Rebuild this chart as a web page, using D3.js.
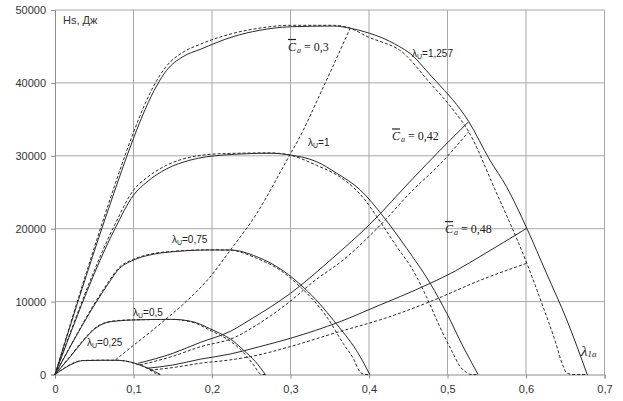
<!DOCTYPE html>
<html><head><meta charset="utf-8">
<script src="https://cdnjs.cloudflare.com/ajax/libs/d3/7.8.5/d3.min.js"></script>
<style>
body{margin:0;background:#fff;}
svg{display:block;}
</style></head>
<body>
<svg id="c" width="623" height="401"></svg>
<script>
// ---- data ----
const xTicks = [0,0.1,0.2,0.3,0.4,0.5,0.6,0.7];
const xTickLabels = ["0","0,1","0,2","0,3","0,4","0,5","0,6","0,7"];
const yTicks = [0,10000,20000,30000,40000,50000];
const yTickLabels = ["0","10000","20000","30000","40000","50000"];

// λU curves: [λ1a, Hs]
const lu1257Solid = [[0,0],[0.04,13600],[0.07,23300],[0.1,32400],[0.115,36400],[0.13,39700],[0.142,41700],[0.163,43600],[0.185,44600],[0.227,46350],[0.26,47200],[0.3,47700],[0.355,47800],[0.376,47500],[0.401,46800],[0.414,46300],[0.439,44970],[0.452,44070],[0.478,41100],[0.486,40170],[0.527,34700],[0.554,29400],[0.575,25800],[0.601,20060],[0.626,13900],[0.652,7480],[0.678,0]];
const lu1257Dashed = [[0,0],[0.04,14000],[0.07,24000],[0.1,33200],[0.115,37200],[0.13,40400],[0.142,42300],[0.163,44200],[0.185,45300],[0.227,46800],[0.26,47500],[0.3,47900],[0.355,47900],[0.376,47500],[0.401,46200],[0.414,45700],[0.439,44500],[0.478,39950],[0.505,36600],[0.527,33300],[0.56,25500],[0.601,15260],[0.62,9800],[0.638,4300],[0.646,1500],[0.652,200],[0.66,0],[0.679,0]];
const lu1Solid = [[0,0],[0.0764,20000],[0.1,24600],[0.117,26400],[0.142,28200],[0.172,29400],[0.214,30100],[0.274,30350],[0.299,30120],[0.333,29200],[0.359,27600],[0.389,25300],[0.418,21700],[0.448,17300],[0.478,12500],[0.499,8400],[0.52,3800],[0.539,0]];
const lu1Dashed = [[0,0],[0.0764,20600],[0.1,25300],[0.117,27000],[0.142,28700],[0.172,29800],[0.214,30300],[0.274,30400],[0.299,30100],[0.333,28700],[0.363,27100],[0.393,24200],[0.41,21650],[0.435,17600],[0.456,14300],[0.473,10700],[0.49,6600],[0.507,2900],[0.516,1100],[0.524,300],[0.53,0],[0.539,0]];
const lu075Solid = [[0,0],[0.07,12800],[0.08,14300],[0.1,15700],[0.121,16400],[0.151,16850],[0.197,17080],[0.223,17080],[0.257,16160],[0.291,14200],[0.316,12000],[0.338,9600],[0.355,7400],[0.37,5400],[0.384,3300],[0.401,0]];
const lu075Dashed = [[0,0],[0.07,13000],[0.08,14500],[0.1,15800],[0.121,16500],[0.151,16900],[0.197,17100],[0.223,17050],[0.257,15940],[0.291,14000],[0.312,12050],[0.329,10220],[0.346,7930],[0.367,4280],[0.38,2200],[0.389,300],[0.395,0],[0.401,0]];
const lu05Solid = [[0,0],[0.02,2500],[0.035,4500],[0.05,6200],[0.065,7100],[0.08,7350],[0.1,7480],[0.15,7570],[0.165,7450],[0.18,7100],[0.197,6300],[0.21,5650],[0.223,4900],[0.24,3360],[0.255,1800],[0.268,0]];
const lu05Dashed = [[0,0],[0.02,2600],[0.035,4600],[0.05,6300],[0.065,7150],[0.08,7400],[0.1,7500],[0.15,7550],[0.165,7400],[0.18,7000],[0.197,6100],[0.21,5400],[0.223,4600],[0.24,3000],[0.255,1000],[0.26,200],[0.263,0],[0.268,0]];
const lu025Solid = [[0,0],[0.012,850],[0.025,1600],[0.035,1900],[0.06,1950],[0.08,1950],[0.09,1850],[0.1,1600],[0.11,1250],[0.12,800],[0.134,0]];
const lu025Dashed = [[0,0],[0.012,900],[0.025,1650],[0.035,1920],[0.06,1970],[0.08,1950],[0.09,1830],[0.1,1560],[0.11,1200],[0.12,700],[0.128,150],[0.131,0],[0.134,0]];

// constant Ca curves
const ca03Dashed = [[0.077,2000],[0.1,4000],[0.12,5700],[0.138,7300],[0.172,10500],[0.197,13300],[0.223,17000],[0.257,22100],[0.299,30100],[0.31,32200],[0.34,39000],[0.376,47500]];
const ca042Solid = [[0.106,1540],[0.15,2900],[0.185,4400],[0.223,5900],[0.248,7480],[0.3,11140],[0.354,16000],[0.401,20600],[0.456,26900],[0.49,30700],[0.527,34680]];
const ca042Dashed = [[0.108,1300],[0.15,2500],[0.185,3800],[0.227,5000],[0.26,7000],[0.299,9990],[0.33,12800],[0.367,15700],[0.41,20000],[0.456,25310],[0.49,28800],[0.527,33300]];
const ca048Solid = [[0.117,850],[0.15,1300],[0.185,2100],[0.223,2800],[0.26,3800],[0.3,4970],[0.363,7240],[0.414,9540],[0.44,10700],[0.478,12510],[0.51,14200],[0.541,16160],[0.601,20060]];
const ca048Dashed = [[0.121,600],[0.15,950],[0.185,1540],[0.223,2000],[0.26,2700],[0.299,3810],[0.363,5900],[0.42,7700],[0.478,10000],[0.541,12900],[0.601,15260]];

const solidSeries = [lu1257Solid, lu1Solid, lu075Solid, lu05Solid, lu025Solid, ca042Solid, ca048Solid];
const dashedSeries = [lu1257Dashed, lu1Dashed, lu075Dashed, lu05Dashed, lu025Dashed, ca03Dashed, ca042Dashed, ca048Dashed];

// annotation anchors (data units)
const luLabels = [
  {val:"1,257", at:[0.4548,43560]},
  {val:"1", at:[0.3223,31350]},
  {val:"0,75", at:[0.149,18040]},
  {val:"0,5", at:[0.0994,8030]},
  {val:"0,25", at:[0.0408,3910]}
];
const caLabels = [
  {val:"0,3", at:[0.2968,44390]},
  {val:"0,42", at:[0.4293,32110]},
  {val:"0,48", at:[0.4968,19410]}
];

// ---- drawing ----
const svg = d3.select("#c");
const x = d3.scaleLinear().domain([0,0.7]).range([55,604.5]);
const y = d3.scaleLinear().domain([0,50000]).range([374.5,10]);
const gridColor = "#a8a8a8";

// grid
svg.append("g").selectAll("line").data(xTicks.slice(1)).join("line")
  .attr("x1",d=>x(d)).attr("x2",d=>x(d)).attr("y1",y(0)).attr("y2",y(50000))
  .attr("stroke",gridColor).attr("stroke-width",1);
svg.append("g").selectAll("line").data(yTicks.slice(1)).join("line")
  .attr("x1",x(0)).attr("x2",x(0.7)).attr("y1",d=>y(d)).attr("y2",d=>y(d))
  .attr("stroke",gridColor).attr("stroke-width",1);

// axes
const xAxis = svg.append("g").attr("transform",`translate(0,${y(0)})`)
  .call(d3.axisBottom(x).tickValues(xTicks).tickFormat((d,i)=>xTickLabels[i]).tickSize(4).tickPadding(7));
const yAxis = svg.append("g").attr("transform",`translate(${x(0)},0)`)
  .call(d3.axisLeft(y).tickValues(yTicks).tickFormat((d,i)=>yTickLabels[i]).tickSize(4).tickPadding(5));
[xAxis,yAxis].forEach(g=>{
  g.select(".domain").attr("stroke","#8c8c8c");
  g.selectAll(".tick line").attr("stroke","#8c8c8c");
  g.selectAll("text").attr("font-family","Liberation Sans, Arial, sans-serif").attr("font-size",11).attr("fill","#333");
});

// curves
const line = d3.line().x(d=>x(d[0])).y(d=>y(d[1])).curve(d3.curveMonotoneX);
svg.append("g").selectAll("path").data(solidSeries).join("path")
  .attr("d",line).attr("fill","none").attr("stroke","#2a2a2a").attr("stroke-width",1);
svg.append("g").selectAll("path").data(dashedSeries).join("path")
  .attr("d",line).attr("fill","none").attr("stroke","#2a2a2a").attr("stroke-width",1)
  .attr("stroke-dasharray","3,2");

// labels
svg.append("text").attr("x",x(0.0102)).attr("y",y(48090))
  .attr("font-family","Liberation Sans, Arial, sans-serif").attr("font-size",11).attr("fill","#333")
  .text("Hs, Дж");

luLabels.forEach(l=>{
  const t = svg.append("text").attr("x",x(l.at[0])).attr("y",y(l.at[1]))
    .attr("font-family","Liberation Sans, Arial, sans-serif").attr("font-size",10).attr("fill","#222");
  t.append("tspan").text("λ");
  t.append("tspan").attr("font-size",7).attr("dy",2).text("U");
  t.append("tspan").attr("dy",-2).text("="+l.val);
});

caLabels.forEach(l=>{
  const t = svg.append("text").attr("x",x(l.at[0])).attr("y",y(l.at[1]))
    .attr("font-family","Liberation Serif, Times New Roman, serif").attr("font-size",12).attr("fill","#222");
  t.append("tspan").attr("font-style","italic").style("text-decoration","overline").text("C");
  t.append("tspan").attr("font-style","italic").attr("font-size",8).attr("dy",2).attr("dx",1).text("a");
  t.append("tspan").attr("dy",-2).text(" = "+l.val);
});

const ax = svg.append("text").attr("x",x(0.670)).attr("y",y(2540))
  .attr("font-family","Liberation Serif, Times New Roman, serif").attr("font-size",15).attr("fill","#222");
ax.append("tspan").attr("font-style","italic").text("λ");
ax.append("tspan").attr("font-style","italic").attr("font-size",9).attr("dy",1).text("1a");
</script>
</body></html>
